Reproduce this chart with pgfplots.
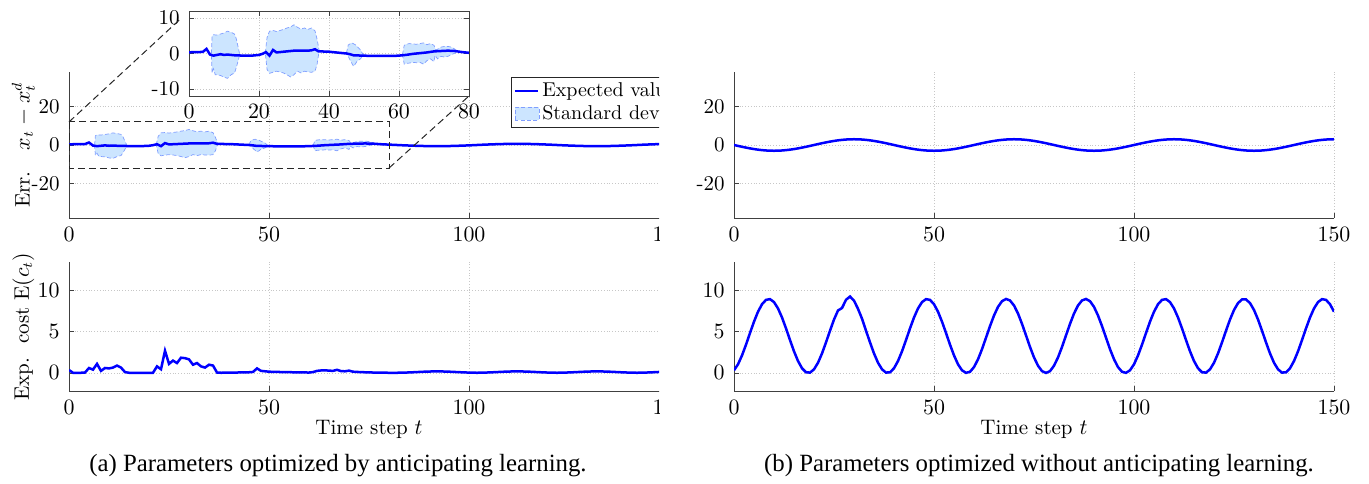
\documentclass[border=0pt]{standalone}
\usepackage{fontspec}
\usepackage{pgfplots}
\pgfplotsset{compat=1.18}
\usepackage{pgfplotstable}
\usetikzlibrary{calc}
\newfontfamily\capfont{Liberation Serif}
\definecolor{bandfill}{rgb}{0.8,0.9,1}
\definecolor{bandedge}{rgb}{0.5,0.62,1}
\definecolor{axgray}{rgb}{0.25,0.25,0.25}

% expected tracking error, anticipating learning
\pgfplotstableread{
t v
0 0.3
1 0.4
2 0.4
3 0.4
4 0.5
5 1.3
6 -0.3
7 -0.6
8 -0.4
9 -0.2
10 -0.4
11 -0.3
12 -0.4
13 -0.5
14 -0.5
15 -0.6
16 -0.6
17 -0.6
18 -0.6
19 -0.5
20 -0.4
21 -0.1
22 0.4
23 -0.6
24 1.0
25 0.3
26 0.4
27 0.5
28 0.6
29 0.7
30 0.8
31 0.8
32 0.8
33 0.8
34 0.8
35 0.9
36 1.2
37 0.6
38 0.6
39 0.5
40 0.5
41 0.4
42 0.3
43 0.2
44 0.1
45 0.0
46 -0.2
47 -0.5
48 -0.5
49 -0.6
50 -0.6
52 -0.7
54 -0.7
56 -0.7
58 -0.7
60 -0.6
62 -0.4
64 -0.1
66 0.1
68 0.3
70 0.6
72 0.7
74 0.8
76 0.7
78 0.4
80 0.2
82 0.0
84 -0.2
86 -0.35
88 -0.5
90 -0.57
92 -0.6
94 -0.57
96 -0.5
98 -0.35
100 -0.2
102 0.0
104 0.2
106 0.35
108 0.5
110 0.57
112 0.6
114 0.57
116 0.5
118 0.35
120 0.2
122 0.0
124 -0.2
126 -0.35
128 -0.5
130 -0.57
132 -0.6
134 -0.57
136 -0.5
138 -0.35
140 -0.2
142 0.0
144 0.2
146 0.35
148 0.5
150 0.57
}\meanA

% expected cost, anticipating learning
\pgfplotstableread{
t c
0 0.35
1 0.02
2 0.02
3 0.02
4 0.05
5 0.6
6 0.4
7 1.1
8 0.25
9 0.6
10 0.55
11 0.65
12 0.9
13 0.65
14 0.1
15 0.02
16 0.02
17 0.02
18 0.02
19 0.02
20 0.02
21 0.02
22 0.8
23 0.45
24 2.7
25 1.1
26 1.5
27 1.2
28 1.85
29 1.8
30 1.65
31 1.0
32 1.2
33 0.8
34 0.65
35 1.0
36 0.9
37 0.05
38 0.02
39 0.03
40 0.04
41 0.05
42 0.05
43 0.06
44 0.07
45 0.08
46 0.12
47 0.55
48 0.25
49 0.2
50 0.15
52 0.12
54 0.1
56 0.08
58 0.06
60 0.05
61 0.1
62 0.25
63 0.3
64 0.32
65 0.28
66 0.25
67 0.38
68 0.22
69 0.2
70 0.28
71 0.15
72 0.12
74 0.08
76 0.05
78 0.03
80 0.02
82 0.02
84 0.04
86 0.08
88 0.13
90 0.17
92 0.19
94 0.17
96 0.13
98 0.08
100 0.04
102 0.02
104 0.04
106 0.08
108 0.13
110 0.17
112 0.19
114 0.17
116 0.13
118 0.08
120 0.04
122 0.02
124 0.04
126 0.08
128 0.13
130 0.17
132 0.19
134 0.17
136 0.13
138 0.08
140 0.04
142 0.02
144 0.04
146 0.08
148 0.13
150 0.17
}\costA

% standard deviation bands (upper edge forward, lower edge back)
\pgfplotstableread{
t y
6.4 0
6.6 4.8
7 5.3
8 5.2
9 5.5
10 5.8
11 6.3
12 6.0
13 5.5
13.5 4.2
14 2
14.5 -0.3
14 -2.2
13.5 -4
13 -5.5
12 -6.0
11 -7.0
10 -6.7
9 -6.2
8 -6.0
7.5 -6.0
7 -4.3
6.6 -5.5
6.4 0
}\bandA
\pgfplotstableread{
t y
21.8 0.2
22.3 4.5
23 6.3
24 6.5
25 6.2
26 6.5
27 6.8
28 7.2
29 7.5
30 8.1
31 7.4
32 6.9
33 7.2
34 6.8
35 7.2
36 6.4
36.6 4
37.2 0.8
36.6 -3
36 -5
35 -5.3
34 -5.2
33 -5
32 -5.5
31 -5
30 -6
29 -6.6
28 -6
27 -5.5
26 -5.2
25 -5
24 -5.3
23 -5.6
22.3 -4.5
21.8 0.2
}\bandB
\pgfplotstableread{
t y
45 0.2
45.5 2.4
46.5 3.0
47.5 2.5
48 2.0
49 1.0
49.8 -0.4
49 -1.5
48 -2.2
47.5 -3.0
47 -3.6
46 -1.8
45 0.2
}\bandC
\pgfplotstableread{
t y
61 -0.3
61.5 2.3
62 2.6
63 2.8
64 2.7
65 2.6
66 2.8
67 3.0
68 2.5
69 2.8
70 2.3
70.5 1.0
71 1.2
72 1.8
73 2.0
74 2.0
75 1.8
76 1.2
76.5 0.6
76 0.1
75 -0.3
74 -0.8
73 -1.0
72 -0.8
71 -1.5
70.3 -0.5
70 -2.3
69 -1.5
68 -2.0
67 -3.0
66 -2.5
65 -2.6
64 -2.5
63 -2.7
62 -2.8
61.5 -3.0
61 -0.3
}\bandD

% expected tracking error, no anticipating learning
\pgfplotstableread{
t v
0 0
2 -0.93
4 -1.76
6 -2.43
8 -2.85
10 -3.0
12 -2.85
14 -2.43
16 -1.76
18 -0.93
20 0
22 0.93
24 1.76
26 2.43
28 2.85
30 3.0
32 2.85
34 2.43
36 1.76
38 0.93
40 0
42 -0.93
44 -1.76
46 -2.43
48 -2.85
50 -3.0
52 -2.85
54 -2.43
56 -1.76
58 -0.93
60 0
62 0.93
64 1.76
66 2.43
68 2.85
70 3.0
72 2.85
74 2.43
76 1.76
78 0.93
80 0
82 -0.93
84 -1.76
86 -2.43
88 -2.85
90 -3.0
92 -2.85
94 -2.43
96 -1.76
98 -0.93
100 0
102 0.93
104 1.76
106 2.43
108 2.85
110 3.0
112 2.85
114 2.43
116 1.76
118 0.93
120 0
122 -0.93
124 -1.76
126 -2.43
128 -2.85
130 -3.0
132 -2.85
134 -2.43
136 -1.76
138 -0.93
140 0
142 0.93
144 1.76
146 2.43
148 2.85
150 3.0
}\meanB

% expected cost, no anticipating learning
\pgfplotstableread{
t c
0 0.32
1 1.05
2 2.13
3 3.44
4 4.86
5 6.24
6 7.45
7 8.36
8 8.89
9 8.98
10 8.62
11 7.85
12 6.75
13 5.42
14 4.00
15 2.63
16 1.45
17 0.57
18 0.08
19 0.04
20 0.44
21 1.24
22 2.37
23 3.72
24 5.14
25 6.50
26 7.6
27 7.9
28 8.9
29 9.3
30 8.8
31 7.8
32 6.6
33 5.14
34 3.72
35 2.37
36 1.24
37 0.44
38 0.04
39 0.08
40 0.57
41 1.45
42 2.63
43 4.00
44 5.42
45 6.75
46 7.85
47 8.62
48 8.98
49 8.89
50 8.36
51 7.45
52 6.24
53 4.86
54 3.44
55 2.13
56 1.05
57 0.32
58 0.01
59 0.14
60 0.71
61 1.66
62 2.89
63 4.29
64 5.70
65 6.99
66 8.04
67 8.73
68 9.00
69 8.82
70 8.21
71 7.23
72 5.97
73 4.57
74 3.16
75 1.89
76 0.88
77 0.22
78 0.00
79 0.22
80 0.88
81 1.89
82 3.16
83 4.57
84 5.97
85 7.23
86 8.21
87 8.82
88 9.00
89 8.73
90 8.04
91 6.99
92 5.70
93 4.29
94 2.89
95 1.66
96 0.71
97 0.14
98 0.01
99 0.32
100 1.05
101 2.13
102 3.44
103 4.86
104 6.24
105 7.45
106 8.36
107 8.89
108 8.98
109 8.62
110 7.85
111 6.75
112 5.42
113 4.00
114 2.63
115 1.45
116 0.57
117 0.08
118 0.04
119 0.44
120 1.24
121 2.37
122 3.72
123 5.14
124 6.50
125 7.66
126 8.50
127 8.94
128 8.94
129 8.50
130 7.66
131 6.50
132 5.14
133 3.72
134 2.37
135 1.24
136 0.44
137 0.04
138 0.08
139 0.57
140 1.45
141 2.63
142 4.00
143 5.42
144 6.75
145 7.85
146 8.62
147 8.98
148 8.89
149 8.36
150 7.45
}\costB

\pgfplotsset{
  common/.style={
    scale only axis, anchor=south west,
    tick align=inside, major tick length=2.5pt,
    grid=major, grid style={densely dotted, black!22},
    axis line style={axgray}, every tick/.style={axgray, line width=0.4pt},
    tick label style={font=\fontsize{10.5}{12}\selectfont},
    label style={font=\fontsize{10.5}{12.5}\selectfont},
    xticklabel style={yshift=-1.2pt},
    yticklabel style={xshift=-1.2pt},
  },
  open/.style={common, axis lines*=left, width=300pt},
  toppl/.style={open, height=73pt, xmin=0, xmax=150, ymin=-38, ymax=38,
    xtick={0,50,100,150}, ytick={-20,0,20}, yticklabels={-20,0,20}},
  botpl/.style={open, height=64.5pt, xmin=0, xmax=150, ymin=-2.2, ymax=13.5,
    xtick={0,50,100,150}, ytick={0,5,10},
    xlabel={Time step $t$},
    xlabel style={at={(axis description cs:0.5,-0.30)}, anchor=center}},
  yl/.style={ylabel style={at={(axis description cs:-0.076,0.5)}, anchor=center}},
  mline/.style={blue, line width=1.25pt},
  band/.style={fill=bandfill, draw=bandedge, dash pattern=on 2pt off 1.2pt, line width=0.35pt, forget plot},
}

\begin{document}
\begin{tikzpicture}
\begin{scope}
\clip (0pt,0pt) rectangle (329.5pt,241.5pt);
% left top
\begin{axis}[toppl, yl, at={(34.5pt,132.5pt)},
  ylabel={Err.\ \ \ $x_t - x_t^d$},
  legend style={at={(axis description cs:0.737,0.966)}, anchor=north west,
    draw=black!85, line width=0.5pt, font=\fontsize{10}{12}\selectfont,
    inner xsep=1pt, inner ysep=0.6pt, row sep=-1.2pt,
    nodes={inner xsep=1.5pt}},
  legend cell align=left]
\addplot[band] table {\bandA};
\addplot[band] table {\bandB};
\addplot[band] table {\bandC};
\addplot[band] table {\bandD};
\addplot[mline, forget plot] table[x=t,y=v] {\meanA};
\addlegendimage{legend image code/.code={\draw[blue, line width=1.2pt] (0pt,0pt) -- (11.5pt,0pt);}}
\addlegendentry{Expected value}
\addlegendimage{legend image code/.code={\draw[fill=bandfill, draw=bandedge, dash pattern=on 2pt off 1.2pt, line width=0.35pt] (0pt,-3.2pt) rectangle (12pt,3.2pt);}}
\addlegendentry{Standard dev.}
\draw[black!85, dash pattern=on 3.5pt off 2pt, line width=0.5pt] (axis cs:0,12) rectangle (axis cs:80,-12);
\coordinate (rNW) at (axis cs:0,12);
\coordinate (rSE) at (axis cs:80,-12);
\end{axis}
% inset
\begin{axis}[common, name=inset, at={(94.5pt,193.5pt)}, width=140pt, height=42.5pt,
  axis background/.style={fill=white},
  xmin=0, xmax=80, ymin=-12, ymax=12,
  xtick={0,20,40,60,80}, ytick={-10,0,10}, yticklabels={-10,0,10},
  xticklabel style={yshift=0.5pt}, yticklabel style={xshift=0pt}]
\addplot[band] table {\bandA};
\addplot[band] table {\bandB};
\addplot[band] table {\bandC};
\addplot[band] table {\bandD};
\addplot[mline] table[x=t,y=v] {\meanA};
\end{axis}
\draw[black!85, dash pattern=on 3.5pt off 2pt, line width=0.5pt] (rNW) -- ($(rNW)!0.925!(inset.north west)$);
\draw[black!85, dash pattern=on 3.5pt off 2pt, line width=0.5pt] (rSE) -- (inset.south east);
% left bottom
\begin{axis}[botpl, yl, at={(34.5pt,46pt)}, ylabel={Exp.\ \ cost E$(c_t)$}]
\addplot[mline] table[x=t,y=c] {\costA};
\end{axis}
\end{scope}
% right top
\begin{axis}[toppl, at={(367pt,132.5pt)}]
\addplot[mline, smooth] table[x=t,y=v] {\meanB};
\end{axis}
% right bottom
\begin{axis}[botpl, at={(367pt,46pt)}]
\addplot[mline] table[x=t,y=c] {\costB};
\end{axis}
\node[font=\capfont\fontsize{12.4}{14}\selectfont, anchor=center] at (169pt,8.5pt) {(a) Parameters optimized by anticipating learning.};
\node[font=\capfont\fontsize{12.4}{14}\selectfont, anchor=center] at (519.5pt,8.5pt) {(b) Parameters optimized without anticipating learning.};
\pgfresetboundingbox
\path[use as bounding box] (0pt,0pt) rectangle (684.5pt,241.5pt);
\end{tikzpicture}
\end{document}
